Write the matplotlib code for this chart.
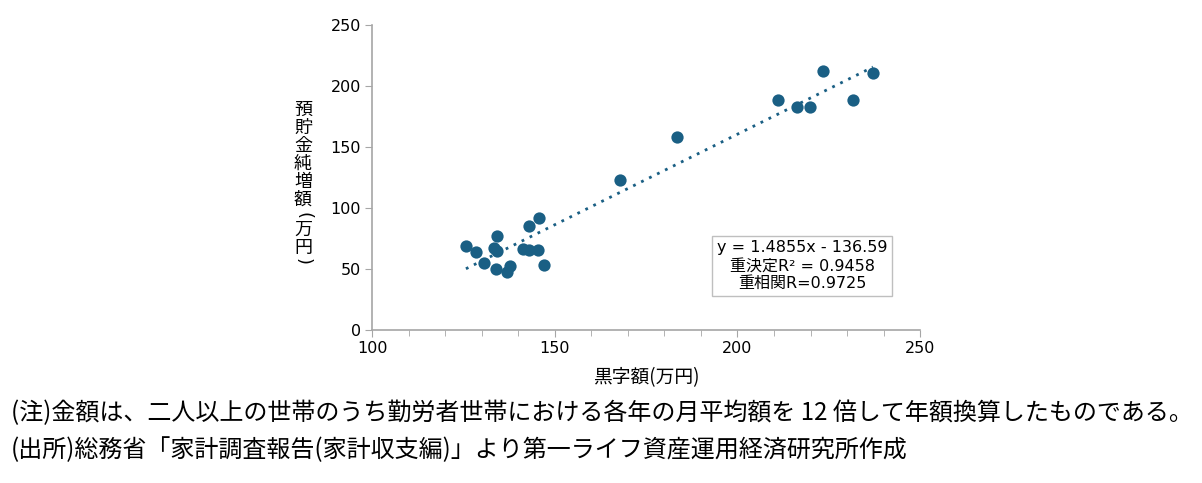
import numpy as np
import matplotlib
matplotlib.use("Agg")
import matplotlib.pyplot as plt
from matplotlib.ticker import MultipleLocator

plt.rcParams['font.family'] = ['Noto Sans CJK JP', 'DejaVu Sans']
latin = ['DejaVu Sans', 'Noto Sans CJK JP']

# 黒字額 (万円) vs 預貯金純増額 (万円)
surplus = [125.7, 128.4, 130.6, 134.1, 133.4, 134.1, 133.9, 137.0, 137.7,
           141.4, 142.9, 143.0, 145.6, 145.5, 147.1,
           167.9, 183.4, 211.2, 216.4, 219.9, 223.5, 231.6, 237.1]
savings = [68.9, 64.2, 54.7, 77.3, 67.5, 64.8, 49.7, 47.8, 52.7,
           66.4, 65.8, 85.2, 91.5, 65.6, 53.3,
           123.0, 158.0, 188.5, 182.5, 182.5, 212.5, 188.5, 210.4]
slope = 1.4855
intercept = -136.59

x_ticks = [100, 150, 200, 250]
y_ticks = [0, 50, 100, 150, 200, 250]

color = "#1a5f84"
W, H = 1202, 483

fig = plt.figure(figsize=(W / 100, H / 100), dpi=100)
ax = fig.add_axes([0.3095, 0.317, 0.456, 0.631])

ax.scatter(surplus, savings, s=78, color=color, zorder=3, linewidths=0)
xs = np.array([min(surplus), max(surplus)])
ax.plot(xs, slope * xs + intercept, color=color, linestyle=(0, (1, 2.2)),
        linewidth=2, zorder=2)

ax.set_xlim(100, 250)
ax.set_ylim(0, 250)
ax.set_xticks(x_ticks)
ax.set_yticks(y_ticks)
ax.xaxis.set_minor_locator(MultipleLocator(10))
for s in ["top", "right"]:
    ax.spines[s].set_visible(False)
for s in ["left", "bottom"]:
    ax.spines[s].set_color("#a6a6a6")
    ax.spines[s].set_linewidth(1.2)
ax.tick_params(axis="both", which="both", direction="out", color="#a6a6a6",
               labelsize=11.5, labelcolor="black")
ax.tick_params(axis="both", which="major", length=5, pad=3)
ax.tick_params(axis="x", which="minor", length=4)
for lab in ax.get_xticklabels() + ax.get_yticklabels():
    lab.set_family(latin)

ax.set_xlabel("黒字額(万円)", fontsize=13.5, labelpad=8)

# vertical (upright, stacked) y-axis label; brackets are turned sideways
ylab_chars = ["預", "貯", "金", "純", "増", "額", "(", "万", "円", ")"]
ylab_steps = [18, 18, 18, 18, 18, 15, 15, 18, 14, 0]
y_px = 110
for ch, step in zip(ylab_chars, ylab_steps):
    if ch in "()":
        fig.text(303 / W, 1 - y_px / H, ch, fontsize=13, family=latin,
                 ha="center", va="center", rotation=270,
                 rotation_mode="anchor")
    else:
        fig.text(303 / W, 1 - y_px / H, ch, fontsize=13,
                 ha="center", va="center")
    y_px += step

ax.text(0.785, 0.21, "y = 1.4855x - 136.59\n重決定R² = 0.9458\n重相関R=0.9725",
        transform=ax.transAxes, ha="center", va="center", fontsize=11.5,
        family=latin, linespacing=1.25,
        bbox=dict(boxstyle="square,pad=0.3", facecolor="white",
                  edgecolor="#bfbfbf", linewidth=1))

fig.text(0.009, 0.145, "(注)金額は、二人以上の世帯のうち勤労者世帯における各年の月平均額を 12 倍して年額換算したものである。",
         fontsize=17.3, va="center", ha="left")
fig.text(0.009, 0.068, "(出所)総務省「家計調査報告(家計収支編)」より第一ライフ資産運用経済研究所作成",
         fontsize=17.3, va="center", ha="left")

fig.savefig("out.png", dpi=100)
